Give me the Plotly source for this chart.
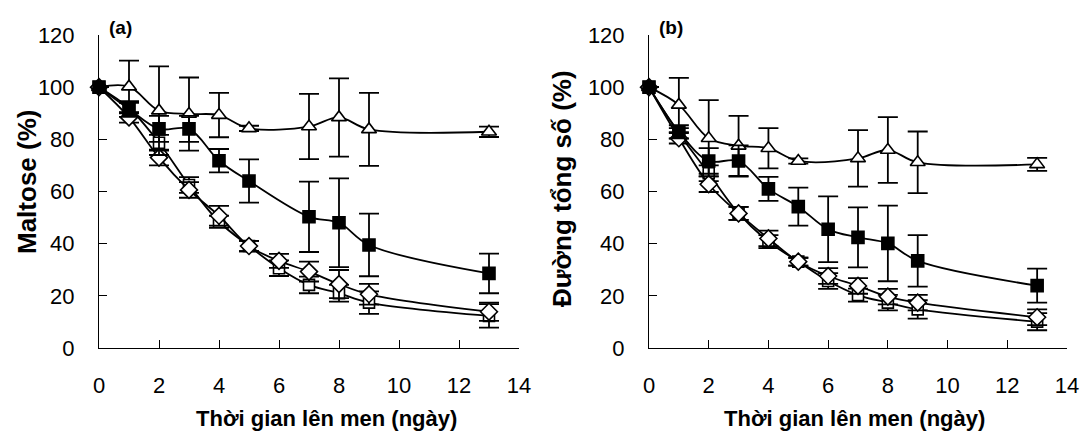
import plotly.graph_objects as go

# ---------- data ----------
days_full = [0, 1, 2, 3, 4, 5, 6, 7, 8, 9, 13]
days_tri = [0, 1, 2, 3, 4, 5, 7, 8, 9, 13]
days_fsq_a = [0, 1, 2, 3, 4, 5, 7, 8, 9, 13]

# Panel (a) Maltose
tri_a = [100, 100.2, 91, 89.7, 89.3, 84.2, 84.9, 88.4, 83.8, 82.9]
tri_a_err = [0, 10, 17, 14, 8.5, 1, 12.5, 15, 14, 2]
fsq_a = [100, 91.6, 84, 84, 71.8, 64, 50.3, 48, 39.5, 28.6]
fsq_a_err = [0, 3, 5, 5, 4.5, 8.3, 13.5, 17, 12, 7.6]
osq_a = [100, 92, 78.7, 62.5, 48.4, 39.1, 30.6, 24.2, 21, 17.4, 12.3]
osq_a_err = [0, 2, 3, 3, 2.3, 2, 3, 3.2, 3.2, 4.3, 4.5]
dia_a = [100, 88.4, 73, 60.6, 50.7, 39.1, 33.4, 29.3, 24.5, 20.6, 13.9]
dia_a_err = [0, 2, 3, 3, 3.8, 2, 2.7, 3.8, 5.4, 4, 3.5]

# Panel (b) Duong tong so
tri_b = [100, 93.2, 80.4, 77.5, 76.6, 71.7, 72.7, 75.9, 71.2, 70.4]
tri_b_err = [0, 10.4, 14.6, 11.5, 7.7, 1, 10.8, 12.6, 11.8, 2.5]
fsq_b = [100, 82.9, 71.7, 71.7, 61, 54.2, 45.5, 42.4, 40.1, 33.4, 23.9]
fsq_b_err = [0, 2.5, 4.9, 6, 4.6, 7.3, 12.6, 11.5, 14.5, 9.9, 6.5]
osq_b = [100, 82.3, 67, 51.6, 40.8, 33.1, 25.7, 20.3, 17.4, 14.8, 10.1]
osq_b_err = [0, 2, 3, 2.5, 2.5, 1.5, 3, 2.5, 3, 3.5, 3.3]
dia_b = [100, 80.4, 62.8, 51.6, 42, 33.1, 27.6, 23.8, 19.7, 17.4, 11.8]
dia_b_err = [0, 2, 3, 2.5, 3, 1.5, 3, 3, 3, 3, 3]

x_ticks = [0, 2, 4, 6, 8, 10, 12, 14]
y_ticks = [0, 20, 40, 60, 80, 100, 120]
x_title = "Thời gian lên men (ngày)"
y_title_a = "Maltose (%)"
y_title_b = "Đường tổng số (%)"

FONT = "Arial, Liberation Sans, sans-serif"
W, H = 1080, 433

fig = go.Figure()


def add_series(x, y, err, symbol, fill, size, xa, ya):
    fig.add_trace(go.Scatter(
        x=x, y=y, xaxis=xa, yaxis=ya, mode="lines+markers",
        line=dict(color="black", width=1.8, shape="spline", smoothing=1),
        marker=dict(symbol=symbol, size=size, color=fill,
                    line=dict(color="black", width=1.6)),
        error_y=dict(type="data", array=err, visible=True, color="black",
                     thickness=1.8, width=10),
        cliponaxis=False, showlegend=False, hoverinfo="skip",
    ))


for xa, ya, tri, tri_e, fsq, fsq_e, fsq_days, osq, osq_e, dia, dia_e in [
    ("x", "y", tri_a, tri_a_err, fsq_a, fsq_a_err, days_fsq_a, osq_a, osq_a_err, dia_a, dia_a_err),
    ("x2", "y2", tri_b, tri_b_err, fsq_b, fsq_b_err, days_full, osq_b, osq_b_err, dia_b, dia_b_err),
]:
    add_series(days_full, osq, osq_e, "square", "white", 11, xa, ya)
    add_series(days_full, dia, dia_e, "diamond", "white", 13, xa, ya)
    add_series(days_tri, tri, tri_e, "triangle-up", "white", 13, xa, ya)
    add_series(fsq_days, fsq, fsq_e, "square", "black", 12, xa, ya)

ydom = [1 - 348 / H, 1 - 35 / H]
xdom_a = [99 / W, 519 / W]
xdom_b = [649 / W, 1067 / W]

xcommon = dict(range=[0, 14], tickvals=x_ticks, ticks="inside", ticklen=8,
               tickwidth=1, tickcolor="black", showline=True, linecolor="black",
               linewidth=1, showgrid=False, zeroline=False, automargin=False,
               tickfont=dict(family=FONT, size=22, color="black"),
               ticklabelstandoff=18)
ycommon = dict(range=[0, 120], tickvals=y_ticks, ticks="inside", ticklen=8,
               tickwidth=1, tickcolor="black", showline=True, linecolor="black",
               linewidth=1, showgrid=False, zeroline=False, automargin=False,
               tickfont=dict(family=FONT, size=22, color="black"),
               ticklabelstandoff=19)

fig.update_layout(
    template="none",
    width=W, height=H, margin=dict(l=0, r=0, t=0, b=0, pad=0),
    paper_bgcolor="white", plot_bgcolor="white",
    xaxis=dict(domain=xdom_a, anchor="y", **xcommon),
    yaxis=dict(domain=ydom, anchor="x", **ycommon),
    xaxis2=dict(domain=xdom_b, anchor="y2", **xcommon),
    yaxis2=dict(domain=ydom, anchor="x2", **ycommon),
)

ann = []
tf = dict(family=FONT, size=22, color="black")
ann.append(dict(text="<b>" + x_title + "</b>", x=326 / W, y=1 - 418 / H, xref="paper", yref="paper",
                showarrow=False, font=tf, xanchor="center", yanchor="middle"))
ann.append(dict(text="<b>" + x_title + "</b>", x=854 / W, y=1 - 418 / H, xref="paper", yref="paper",
                showarrow=False, font=tf, xanchor="center", yanchor="middle"))
ann.append(dict(text="<b>" + y_title_a + "</b>", x=27 / W, y=1 - 182 / H, xref="paper", yref="paper",
                showarrow=False, font=dict(family=FONT, size=26, color="black"), textangle=-90,
                xanchor="center", yanchor="middle"))
ann.append(dict(text="<b>" + y_title_b + "</b>", x=562 / W, y=1 - 189 / H, xref="paper", yref="paper",
                showarrow=False, font=dict(family=FONT, size=26, color="black"), textangle=-90,
                xanchor="center", yanchor="middle"))
ann.append(dict(text="<b>(a)</b>", x=107 / W, y=1 - 28 / H, xref="paper", yref="paper",
                showarrow=False, font=dict(family=FONT, size=19, color="black"),
                xanchor="left", yanchor="middle"))
ann.append(dict(text="<b>(b)</b>", x=657 / W, y=1 - 28 / H, xref="paper", yref="paper",
                showarrow=False, font=dict(family=FONT, size=19, color="black"),
                xanchor="left", yanchor="middle"))
fig.update_layout(annotations=ann)

fig.write_html("out.html", config={"displayModeBar": False, "staticPlot": True},
               post_script="document.body.style.margin='0';document.body.style.overflow='hidden';")
